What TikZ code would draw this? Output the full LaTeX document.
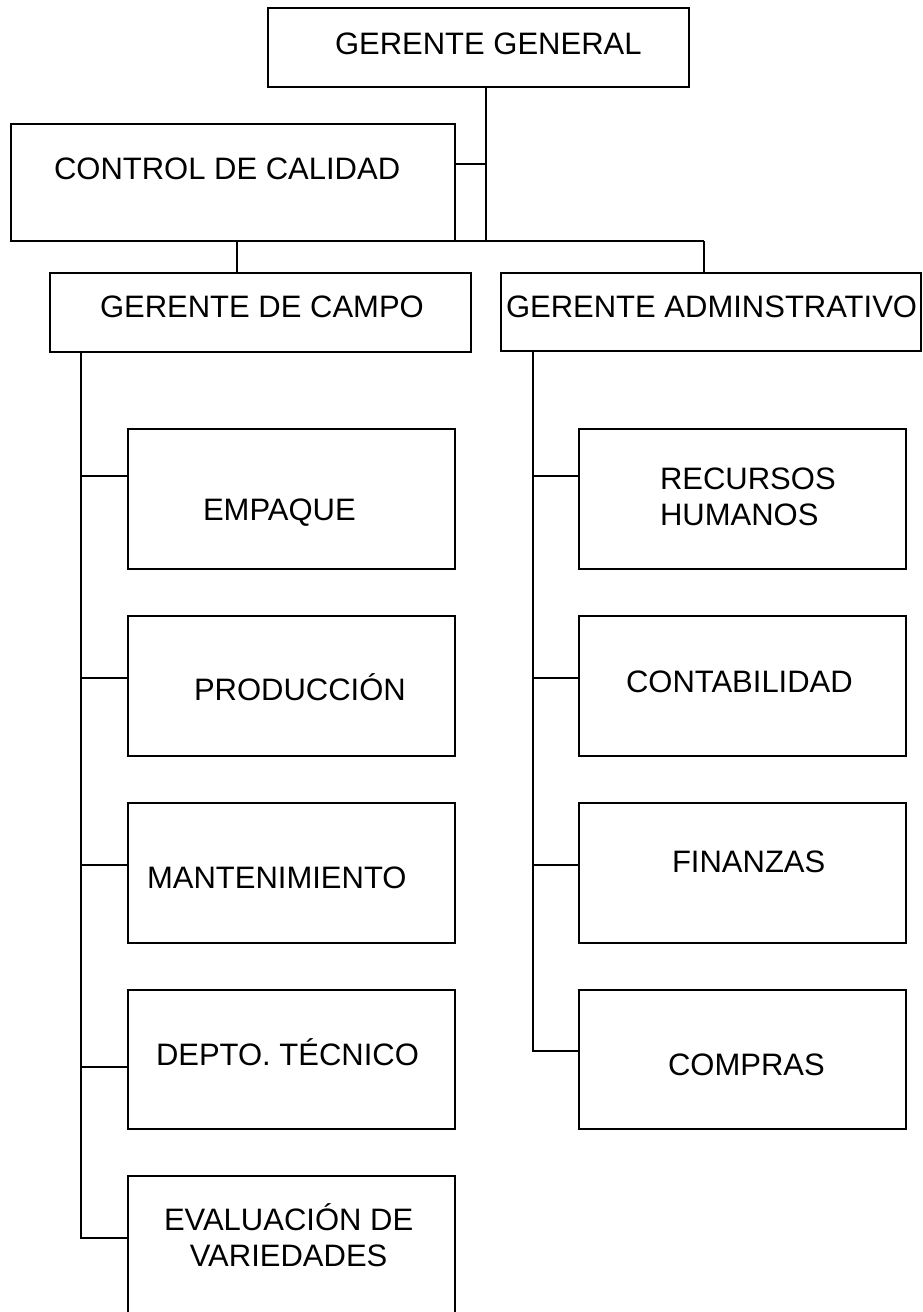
\documentclass[tikz,border=0pt]{standalone}
\usepackage{fontspec}
\setmainfont{Liberation Sans}
\begin{document}
\begin{tikzpicture}[x=1pt,y=-1pt,
  box/.style={draw=black,line width=2.2pt,rectangle,inner sep=0pt,outer sep=0pt,fill=white},
  lbl/.style={inner sep=0pt,outer sep=0pt,anchor=base west,font=\fontsize{31}{36}\selectfont,align=left},
  conn/.style={draw=black,line width=2pt}]
\useasboundingbox (0,0) rectangle (923,1312);
\clip (0,0) rectangle (923,1312);
% top boxes
\node[box,minimum width=421pt,minimum height=79pt] (gg) at (478.5,47.5) {};
\node[box,minimum width=444pt,minimum height=117pt] (cc) at (233,182.5) {};
\node[box,minimum width=421pt,minimum height=79pt] (gdc) at (260.5,312.5) {};
\node[box,minimum width=420pt,minimum height=78pt] (ga) at (711,312) {};
% left column
\node[box,minimum width=327pt,minimum height=140pt] (emp) at (291.5,499) {};
\node[box,minimum width=327pt,minimum height=140pt] (prod) at (291.5,686) {};
\node[box,minimum width=327pt,minimum height=140pt] (mant) at (291.5,873) {};
\node[box,minimum width=327pt,minimum height=139pt] (dep) at (291.5,1059.5) {};
\node[box,minimum width=327pt,minimum height=160pt] (eval) at (291.5,1256) {};
% right column
\node[box,minimum width=327pt,minimum height=140pt] (rh) at (742.5,499) {};
\node[box,minimum width=327pt,minimum height=140pt] (cont) at (742.5,686) {};
\node[box,minimum width=327pt,minimum height=140pt] (fin) at (742.5,873) {};
\node[box,minimum width=327pt,minimum height=139pt] (comp) at (742.5,1059.5) {};
% labels
\node[lbl] (tgg) at (335,54) {GERENTE GENERAL};
\node[lbl] (tcc) at (54,179) {CONTROL DE CALIDAD};
\node[lbl] (tgdc) at (100,317) {GERENTE DE CAMPO};
\node[lbl] (tga) at (506,317) {GERENTE ADMINSTRATIVO};
\node[lbl] (temp) at (203,520) {EMPAQUE};
\node[lbl] (tprod) at (194,700) {PRODUCCIÓN};
\node[lbl] (tmant) at (147,888) {MANTENIMIENTO};
\node[lbl] (tdep) at (156,1065) {DEPTO. TÉCNICO};
\node[lbl,align=center] (teval) at (164,1266) {EVALUACIÓN DE\\VARIEDADES};
\node[lbl] (trh) at (660,525) {RECURSOS\\HUMANOS};
\node[lbl] (tcont) at (626,692) {CONTABILIDAD};
\node[lbl] (tfin) at (672,872) {FINANZAS};
\node[lbl] (tcomp) at (668,1075) {COMPRAS};
% junction coordinates
\coordinate (jt) at (486,241);
\coordinate (jl) at (237,241);
\coordinate (jr) at (704,241);
\coordinate (ltrunk) at (81,1238);
\coordinate (rtrunk) at (533,1051);
% connectors
\draw[conn] (gg.south -| jt) -- (jt);
\draw[conn] (cc.east |- 0,164) -- (486,164);
\draw[conn] (jl) -- (jr);
\draw[conn] (jl) -- (jl |- gdc.north);
\draw[conn] (jr) -- (jr |- ga.north);
\draw[conn] (gdc.south -| ltrunk) -- (ltrunk) -- (eval.west |- ltrunk);
\draw[conn] (ga.south -| rtrunk) -- (rtrunk) -- (comp.west |- rtrunk);
\draw[conn] (81,476) -- (emp.west |- 0,476);
\draw[conn] (81,678) -- (prod.west |- 0,678);
\draw[conn] (81,865) -- (mant.west |- 0,865);
\draw[conn] (81,1067) -- (dep.west |- 0,1067);
\draw[conn] (533,476) -- (rh.west |- 0,476);
\draw[conn] (533,678) -- (cont.west |- 0,678);
\draw[conn] (533,865) -- (fin.west |- 0,865);
\end{tikzpicture}
\end{document}
